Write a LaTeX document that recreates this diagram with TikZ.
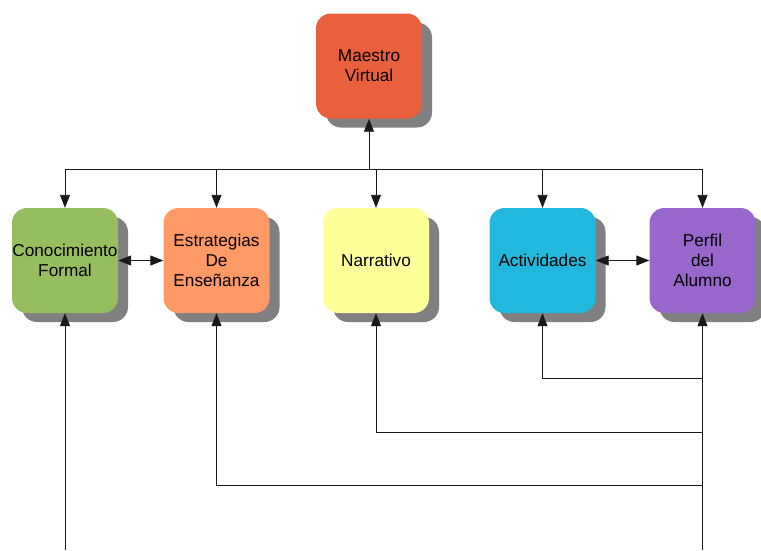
\documentclass[tikz,border=0pt]{standalone}
\usepackage{fontspec}
\setmainfont{Liberation Sans}
\usetikzlibrary{arrows.meta,shadows}
\definecolor{cMaestro}{RGB}{234,96,61}
\definecolor{cCono}{RGB}{151,190,94}
\definecolor{cEstr}{RGB}{255,153,102}
\definecolor{cNarr}{RGB}{255,255,153}
\definecolor{cActi}{RGB}{34,183,220}
\definecolor{cPerf}{RGB}{153,102,204}
\tikzset{
  box/.style={rounded corners=15pt, minimum width=106pt, minimum height=105pt,
    inner sep=0pt, align=center, font=\fontsize{17.2}{19.8}\selectfont,
    drop shadow={shadow xshift=10pt, shadow yshift=-9pt, fill=black!50, opacity=1}},
  conn/.style={line width=0.9pt, draw=black!90},
  arr/.style={conn, -{Triangle[length=13pt,width=10pt]}},
  biarr/.style={conn, {Triangle[length=13pt,width=10pt]}-{Triangle[length=13pt,width=10pt]}}
}
\begin{document}
\begin{tikzpicture}[x=1pt,y=-1pt]
\useasboundingbox (0,0) rectangle (761,550);
\node[box, fill=cMaestro] (M) at (369,66) {Maestro\\Virtual};
\node[box, fill=cCono] (C) at (65,260.5) {Conocimiento\\Formal};
\node[box, fill=cEstr] (E) at (216.5,260.5) {Estrategias\\De\\Enseñanza};
\node[box, fill=cNarr] (N) at (376,260.5) {Narrativo};
\node[box, fill=cActi] (A) at (542.5,260.5) {Actividades};
\node[box, fill=cPerf] (P) at (702.5,260.5) {Perfil\\del\\Alumno};

\coordinate (hub) at (369,169);
\draw[arr] (hub) -- (M.south);
\draw[conn] (C.north |- hub) -- (P.north |- hub);
\foreach \n in {C,E,N,A,P} \draw[arr] (\n.north |- hub) -- (\n.north);

\draw[biarr] (C.east) -- (E.west);
\draw[biarr] (A.east) -- (P.west);

\coordinate (cb) at (65,550);
\coordinate (pb) at (702.5,550);
\coordinate (j1) at (702.5,378);
\coordinate (j2) at (702.5,432);
\coordinate (j3) at (702.5,485);
\draw[arr] (cb) -- (C.south);
\draw[arr] (pb) -- (P.south);
\draw[arr] (j1) -| (A.south);
\draw[arr] (j2) -| (N.south);
\draw[arr] (j3) -| (E.south);
\end{tikzpicture}
\end{document}
